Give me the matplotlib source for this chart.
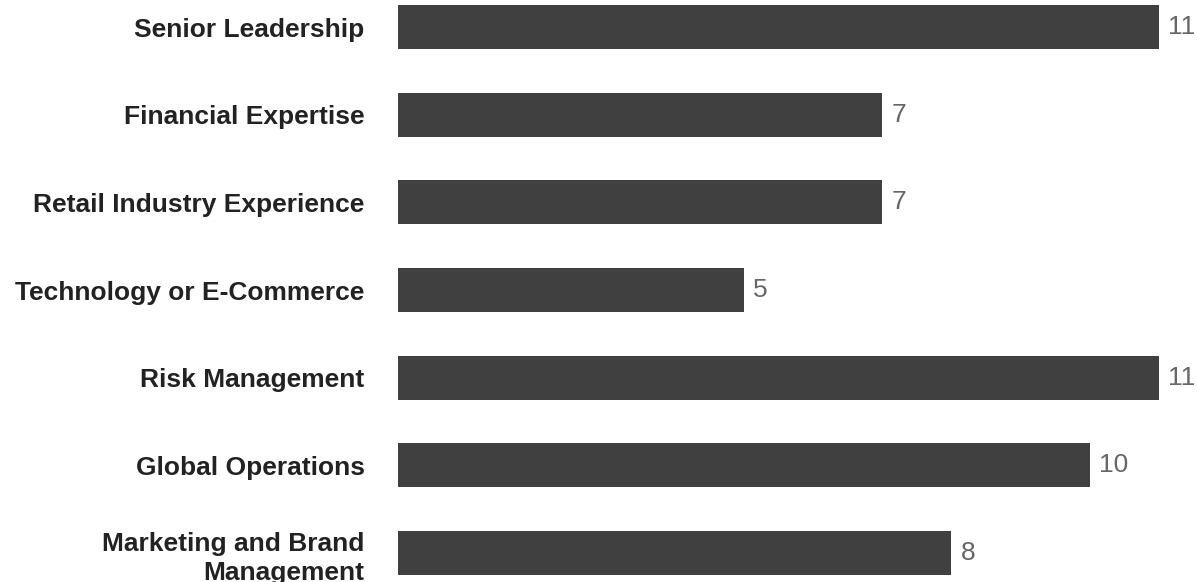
import matplotlib
matplotlib.use('Agg')
import matplotlib.pyplot as plt

# --- данные --- #
categories = ['Senior Leadership', 'Financial Expertise', 'Retail Industry Experience',
              'Technology or E-Commerce', 'Risk Management', 'Global Operations',
              'Marketing and Brand\nManagement']
values = [11, 7, 7, 5, 11, 10, 8]

plt.rcParams['font.family'] = ['Liberation Sans', 'DejaVu Sans']

fig = plt.figure(figsize=(11.97, 5.82), dpi=100)
ax = fig.add_axes([398 / 1197, 0, 1 - 398 / 1197, 1])

pos = list(range(len(categories)))
ax.barh(pos, values, height=0.502, color='#404040')

for y, v in zip(pos, values):
    ax.text(v + 0.13, y, str(v), va='center', ha='left', fontsize=19, color='#666666')

ax.set_xlim(0, 11.55)
ax.set_ylim(6.33, -0.308)
ax.set_yticks(pos)
ax.set_yticklabels(categories, fontsize=19, fontweight='bold', color='#222222',
                   linespacing=1.3)
ax.tick_params(axis='y', length=0, pad=24)
ax.set_xticks([])
for sp in ax.spines.values():
    sp.set_visible(False)

fig.savefig('out.png', dpi=100)
